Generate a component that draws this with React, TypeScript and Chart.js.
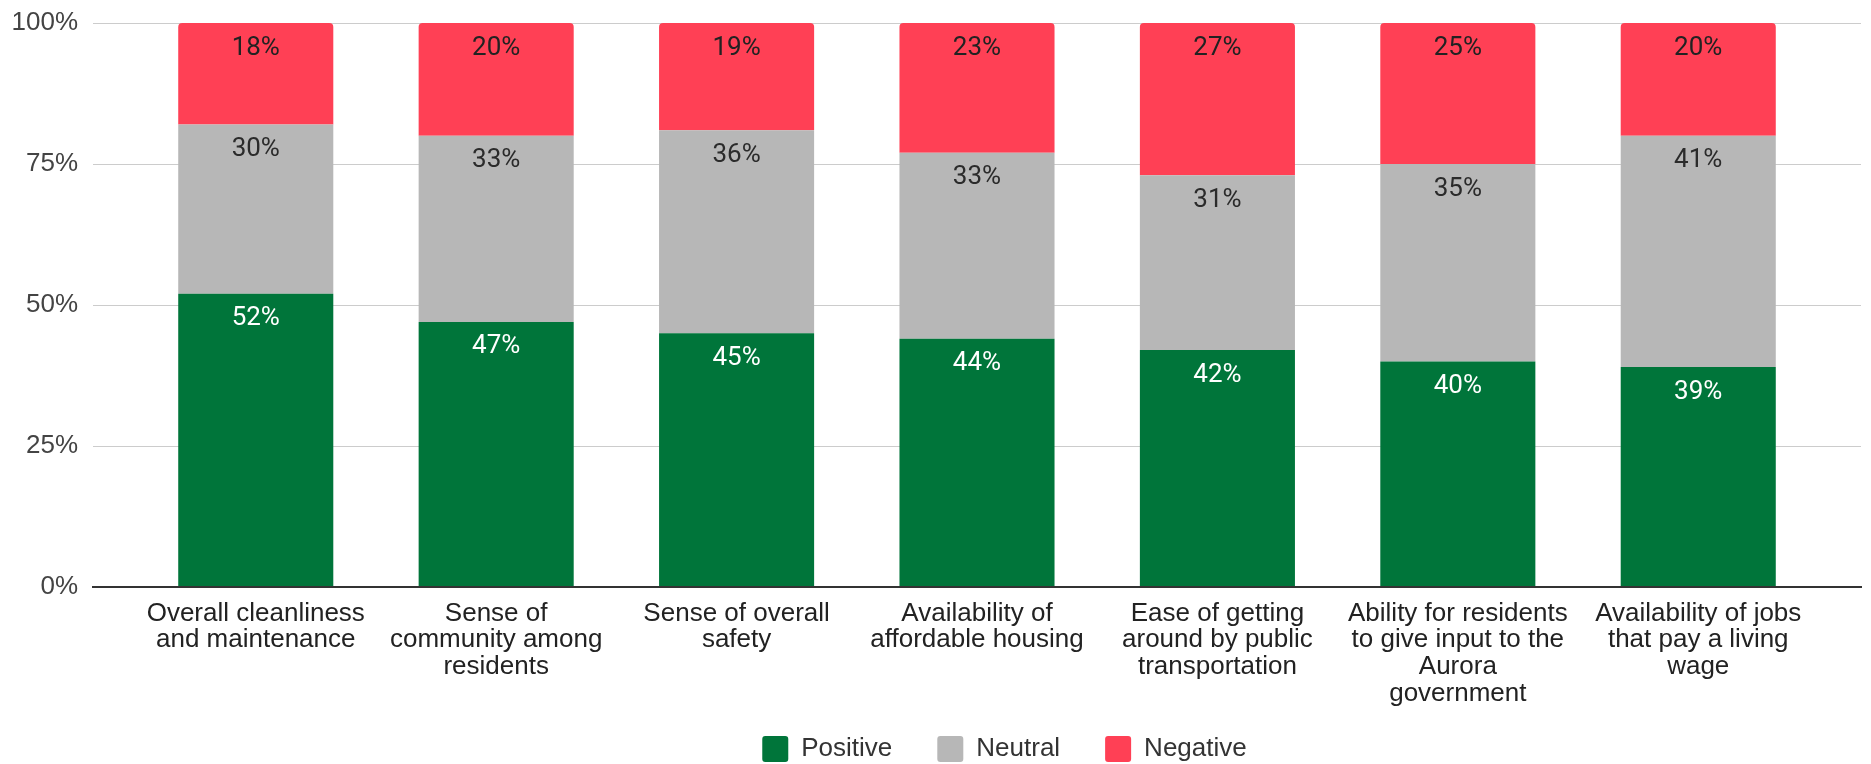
import React, { useEffect, useRef } from "react";
import { Chart, registerables } from "chart.js";

Chart.register(...registerables);

// ---- Data ----
const categoryLabels: string[][] = [
  ["Overall cleanliness", "and maintenance"],
  ["Sense of", "community among", "residents"],
  ["Sense of overall", "safety"],
  ["Availability of", "affordable housing"],
  ["Ease of getting", "around by public", "transportation"],
  ["Ability for residents", "to give input to the", "Aurora", "government"],
  ["Availability of jobs", "that pay a living", "wage"],
];
const seriesNames = ["Positive", "Neutral", "Negative"];
const positiveValues = [52, 47, 45, 44, 42, 40, 39];
const neutralValues = [30, 33, 36, 33, 31, 35, 41];
const negativeValues = [18, 20, 19, 23, 27, 25, 20];
const yTickValues = [0, 25, 50, 75, 100];

// ---- Styles ----
const seriesColors = ["#00753A", "#B7B7B7", "#FF4055"];
const labelColors = ["#FFFFFF", "#2b2b2b", "#222222"];
const FONT = "'Liberation Sans', Arial, Helvetica, sans-serif";

const seriesValues = [positiveValues, neutralValues, negativeValues];

const valueLabelPlugin = {
  id: "valueLabels",
  afterDatasetsDraw(chart: any) {
    const ctx = chart.ctx;
    chart.data.datasets.forEach((_ds: any, di: number) => {
      const meta = chart.getDatasetMeta(di);
      meta.data.forEach((bar: any, i: number) => {
        const v = seriesValues[di][i];
        ctx.save();
        ctx.font = "26px Roboto, 'Liberation Sans', sans-serif";
        ctx.fillStyle = labelColors[di];
        ctx.textAlign = "center";
        ctx.textBaseline = "middle";
        ctx.fillText(v + "%", bar.x, bar.y + 25);
        ctx.restore();
      });
    });
  },
};

const legendShiftPlugin = {
  id: "legendShift",
  afterLayout(chart: any) {
    const lg = chart.legend;
    if (lg) {
      lg.left += 68;
      lg.right += 68;
      lg.top = lg.bottom - 73;
    }
  },
};

export default function App() {
  const canvasRef = useRef<HTMLCanvasElement | null>(null);

  useEffect(() => {
    document.body.style.margin = "0";
    const canvas = canvasRef.current;
    if (!canvas) return;
    Chart.defaults.font.family = FONT;

    const n = categoryLabels.length;
    const chart = new Chart(canvas, {
      type: "bar",
      data: {
        datasets: seriesNames.map((name, di) => ({
          label: name,
          data: seriesValues[di].map((v, i) => ({ x: i, y: v })),
          backgroundColor: seriesColors[di],
          borderWidth: 0,
          borderSkipped: false,
          borderRadius:
            di === 2
              ? { topLeft: 4, topRight: 4, bottomLeft: 0, bottomRight: 0 }
              : 0,
          categoryPercentage: 1,
          barPercentage: 0.645,
        })),
      },
      options: {
        responsive: false,
        animation: false,
        devicePixelRatio: 1,
        layout: { padding: { left: 12, right: 10, top: 23, bottom: 0 } },
        scales: {
          x: {
            type: "linear",
            stacked: true,
            bounds: "data",
            offset: false,
            min: -0.677,
            max: n - 1 + 0.677,
            afterBuildTicks: (scale: any) => {
              scale.ticks = categoryLabels.map((_, i) => ({ value: i }));
            },
            afterFit: (scale: any) => {
              scale.height = 124;
              scale.paddingLeft = 0;
              scale.paddingRight = 0;
            },
            grid: { display: false, drawTicks: false, offset: false },
            border: { display: true, color: "#333333", width: 2, z: 1 },
            ticks: {
              autoSkip: false,
              maxRotation: 0,
              minRotation: 0,
              padding: 13,
              color: "#222222",
              font: { size: 26, lineHeight: 1.03 },
              callback: (value: any) => categoryLabels[Math.round(Number(value))] ?? "",
            },
          },
          y: {
            stacked: true,
            min: 0,
            max: 100,
            afterBuildTicks: (scale: any) => {
              scale.ticks = yTickValues.map((v) => ({ value: v }));
            },
            afterFit: (scale: any) => {
              scale.width = 81;
              scale.paddingTop = 0;
              scale.paddingBottom = 0;
            },
            grid: {
              drawTicks: false,
              color: "#cccccc",
              lineWidth: 1,
            },
            border: { display: false },
            ticks: {
              padding: 15,
              color: "#444444",
              font: { size: 26 },
              callback: (value: any) => value + "%",
            },
          },
        },
        plugins: {
          legend: {
            position: "bottom",
            maxHeight: 53,
            labels: {
              boxWidth: 26,
              boxHeight: 26,
              padding: 45,
              color: "#333333",
              font: { size: 26 },
              useBorderRadius: true,
              borderRadius: 3,
            },
          },
          tooltip: { enabled: false },
        },
      } as any,
      plugins: [valueLabelPlugin, legendShiftPlugin],
    });
    return () => chart.destroy();
  }, []);

  return (
    <canvas
      ref={canvasRef}
      width={1871}
      height={764}
      style={{ display: "block", width: "1871px", height: "764px" }}
    />
  );
}
